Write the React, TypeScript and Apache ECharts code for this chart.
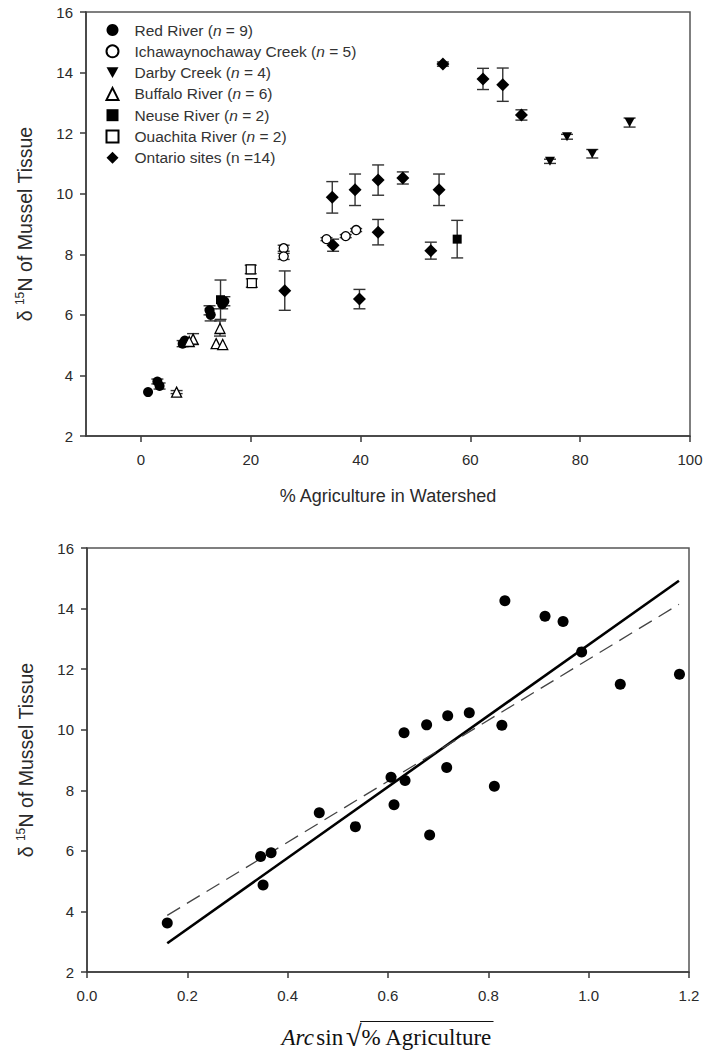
import React, { useEffect, useRef } from "react";
import * as echarts from "echarts";

// ---------- data ----------
const siteNames = [
  "Red River",
  "Ichawaynochaway Creek",
  "Darby Creek",
  "Buffalo River",
  "Neuse River",
  "Ouachita River",
  "Ontario sites",
];
const siteCounts = ["9", "5", "4", "6", "2", "2", "14"];

// [% agriculture in watershed, δ15N, ± error]
const redRiver = [
  [1.3, 3.45, 0],
  [3.0, 3.8, 0.08],
  [3.4, 3.65, 0.1],
  [7.6, 5.05, 0.1],
  [8.0, 5.15, 0],
  [12.5, 6.15, 0.15],
  [12.7, 6.0, 0.2],
  [14.8, 6.35, 0.15],
  [15.2, 6.45, 0.15],
];
const ichawaynochaway = [
  [26.0, 8.2, 0.1],
  [26.0, 7.93, 0.1],
  [33.8, 8.5, 0.05],
  [37.3, 8.6, 0.05],
  [39.2, 8.8, 0.05],
];
const darbyCreek = [
  [74.5, 11.07, 0.07],
  [77.6, 11.88, 0.08],
  [82.2, 11.32, 0.14],
  [89.0, 12.35, 0.15],
];
const buffaloRiver = [
  [6.5, 3.45, 0.05],
  [9.5, 5.2, 0.18],
  [8.8, 5.12, 0],
  [14.4, 5.55, 0.25],
  [13.7, 5.05, 0],
  [14.9, 5.02, 0],
];
const neuseRiver = [
  [57.6, 8.5, 0.62],
  [14.5, 6.5, 0.65],
];
const ouachitaRiver = [
  [20.0, 7.5, 0.14],
  [20.2, 7.05, 0.14],
];
const ontarioSites = [
  [55.0, 14.28, 0.07],
  [62.3, 13.79, 0.35],
  [65.9, 13.6, 0.55],
  [69.3, 12.6, 0.17],
  [43.2, 10.45, 0.5],
  [47.7, 10.52, 0.2],
  [54.3, 10.13, 0.52],
  [43.2, 8.73, 0.42],
  [52.8, 8.12, 0.28],
  [34.85, 9.88, 0.52],
  [39.0, 10.13, 0.52],
  [35.0, 8.3, 0.2],
  [39.8, 6.52, 0.32],
  [26.2, 6.8, 0.65],
];

const topXTicks = [0, 20, 40, 60, 80, 100];

// bottom panel
const arcsinAg = [
  0.16, 0.346, 0.367, 0.351, 0.463, 0.535, 0.606, 0.612, 0.632, 0.634, 0.677,
  0.683, 0.717, 0.719, 0.762, 0.812, 0.827, 0.833, 0.913, 0.949, 0.986, 1.063,
  1.181,
];
const d15N = [
  3.62, 5.81, 5.94, 4.87, 7.26, 6.8, 8.43, 7.52, 9.9, 8.32, 10.16, 6.52, 8.75,
  10.46, 10.56, 8.13, 10.15, 14.26, 13.75, 13.57, 12.57, 11.5, 11.83,
];
const bottomXTicks = [0, 0.2, 0.4, 0.6, 0.8, 1.0, 1.2];
const fitX = [0.16, 1.18];
const fitSolidY = [2.95, 14.92];
const fitDashedY = [3.87, 14.14];

// ---------- styling ----------
const SANS = '"Liberation Sans", Arial, Helvetica, sans-serif';
const SERIF = '"Liberation Serif", "Times New Roman", serif';
const AX = "#3a3a3a";
const TXT = "#2a2a2a";
const DOWN_TRI = "path://M0,0L10,0L5,9Z";

const siteData = [
  redRiver,
  ichawaynochaway,
  darbyCreek,
  buffaloRiver,
  neuseRiver,
  ouachitaRiver,
  ontarioSites,
];
const siteSymbols: any[] = [
  { symbol: "circle", size: 10, fill: "#000" },
  { symbol: "circle", size: 9, fill: "#fff" },
  { symbol: DOWN_TRI, size: 10, fill: "#000" },
  { symbol: "triangle", size: 10, fill: "#fff" },
  { symbol: "rect", size: 9, fill: "#000" },
  { symbol: "rect", size: 9, fill: "#fff" },
  { symbol: "diamond", size: 13, fill: "#000" },
];

function measure(text: string, font: string) {
  const c = document.createElement("canvas").getContext("2d")!;
  c.font = font;
  return c.measureText(text).width;
}

export default function App() {
  const ref = useRef<HTMLDivElement>(null);

  useEffect(() => {
    if (!ref.current) return;
    const chart = echarts.init(ref.current, null, { renderer: "svg" });

    const axisCommon = {
      axisLine: { show: true, onZero: false, lineStyle: { color: AX, width: 1.5 } },
      axisTick: { show: true, length: 6, lineStyle: { color: AX, width: 1.5 } },
      splitLine: { show: false },
    };
    const labelCommon = { fontSize: 15, color: TXT, fontFamily: SANS };

    const yName = "δ {sup|15}N of Mussel Tissue";
    const yNameStyle = {
      fontSize: 19.5,
      color: TXT,
      fontFamily: SANS,
      lineHeight: 22,
      rich: {
        sup: { fontSize: 12, fontFamily: SANS, color: TXT, verticalAlign: "top", lineHeight: 22 },
      },
    };

    const errorRender = (params: any, api: any) => {
      const x = api.value(0);
      const y = api.value(1);
      const e = api.value(2);
      if (!e) return { type: "group", children: [] };
      const t = api.coord([x, y + e]);
      const b = api.coord([x, y - e]);
      const hw = 6;
      const st = { stroke: "#333", lineWidth: 1.4 };
      return {
        type: "group",
        children: [
          { type: "line", shape: { x1: t[0], y1: t[1], x2: b[0], y2: b[1] }, style: st },
          { type: "line", shape: { x1: t[0] - hw, y1: t[1], x2: t[0] + hw, y2: t[1] }, style: st },
          { type: "line", shape: { x1: b[0] - hw, y1: b[1], x2: b[0] + hw, y2: b[1] }, style: st },
        ],
      };
    };

    const series: any[] = [];
    siteData.forEach((d, i) => {
      series.push({
        type: "custom",
        name: siteNames[i] + " error",
        xAxisIndex: 0,
        yAxisIndex: 0,
        data: d,
        renderItem: errorRender,
        z: 1,
        silent: true,
      });
    });
    siteData.forEach((d, i) => {
      const s = siteSymbols[i];
      series.push({
        type: "scatter",
        name: siteNames[i],
        xAxisIndex: 0,
        yAxisIndex: 0,
        data: d.map((p) => [p[0], p[1]]),
        symbol: s.symbol,
        symbolSize: s.size,
        symbolKeepAspect: true,
        itemStyle: { color: s.fill, borderColor: "#000", borderWidth: s.fill === "#fff" ? 1.3 : 0, opacity: 1 },
        z: 3,
      });
    });

    series.push({
      type: "scatter",
      name: "bottom",
      xAxisIndex: 1,
      yAxisIndex: 1,
      data: arcsinAg.map((x, i) => [x, d15N[i]]),
      symbol: "circle",
      symbolSize: 11,
      itemStyle: { color: "#000", opacity: 1 },
      z: 3,
    });
    series.push({
      type: "line",
      name: "fit solid",
      xAxisIndex: 1,
      yAxisIndex: 1,
      data: fitX.map((x, i) => [x, fitSolidY[i]]),
      showSymbol: false,
      symbol: "none",
      lineStyle: { color: "#000", width: 2.6 },
      z: 2,
    });
    series.push({
      type: "line",
      name: "fit dashed",
      xAxisIndex: 1,
      yAxisIndex: 1,
      data: fitX.map((x, i) => [x, fitDashedY[i]]),
      showSymbol: false,
      symbol: "none",
      lineStyle: { color: "#444", width: 1.3, type: [15, 8] },
      z: 2,
    });

    // bottom x title: Arc sin √(% Agriculture)
    const fs = 23;
    const fItal = `italic ${fs}px ${SERIF}`;
    const fReg = `${fs}px ${SERIF}`;
    const fRad = `29px ${SERIF}`;
    const gap = 2.5;
    const wArc = measure("Arc", fItal);
    const wSin = measure("sin", fReg);
    const wRad = measure("√", fRad);
    const wAg = measure("% Agriculture", fReg);
    const total = wArc + gap + wSin + gap + wRad + wAg;
    const cx = 387;
    const x0 = cx - total / 2;
    const xSin = x0 + wArc + gap;
    const xRad = xSin + wSin + gap;
    const xAg = xRad + wRad;
    const textTop = 1026;

    chart.setOption({
      animation: false,
      backgroundColor: "#fff",
      grid: [
        { left: 86, top: 12, width: 604, height: 424, show: true, borderColor: "#555", borderWidth: 1.5, backgroundColor: "transparent" },
        { left: 87, top: 548, width: 602, height: 424, show: true, borderColor: "#555", borderWidth: 1.5, backgroundColor: "transparent" },
      ],
      legend: {
        data: siteNames.map((n, i) => ({
          name: n,
          icon: siteSymbols[i].symbol,
        })),
        orient: "vertical",
        left: 100.5,
        top: 16.5,
        itemWidth: 12,
        itemHeight: 12,
        itemGap: 4.3,
        selectedMode: false,
        formatter: (name: string) => {
          const i = siteNames.indexOf(name);
          if (name === "Ontario sites") return `${name} (n =${siteCounts[i]})`;
          return `${name} ({it|n} = ${siteCounts[i]})`;
        },
        textStyle: {
          fontFamily: SANS,
          fontSize: 15.5,
          color: "#333",
          lineHeight: 17,
          padding: [0, 0, 0, 11],
          rich: { it: { fontStyle: "italic", fontFamily: SANS, fontSize: 15.5, color: "#333", lineHeight: 17 } },
        },
      },
      xAxis: [
        {
          type: "value",
          gridIndex: 0,
          min: -10,
          max: 100,
          ...axisCommon,
          axisTick: { ...axisCommon.axisTick, customValues: topXTicks },
          axisLabel: { ...labelCommon, margin: 16, customValues: topXTicks },
          name: "% Agriculture in Watershed",
          nameLocation: "middle",
          nameGap: 51,
          nameTextStyle: { fontSize: 18, color: TXT, fontFamily: SANS },
        },
        {
          type: "value",
          gridIndex: 1,
          min: 0,
          max: 1.2,
          ...axisCommon,
          axisTick: { ...axisCommon.axisTick, customValues: bottomXTicks },
          axisLabel: { ...labelCommon, margin: 16, customValues: bottomXTicks, formatter: (v: number) => v.toFixed(1) },
        },
      ],
      yAxis: [
        {
          type: "value",
          gridIndex: 0,
          min: 2,
          max: 16,
          interval: 2,
          ...axisCommon,
          axisLabel: { ...labelCommon, margin: 13 },
          name: yName,
          nameLocation: "middle",
          nameRotate: 90,
          nameGap: 50,
          nameTextStyle: yNameStyle,
        },
        {
          type: "value",
          gridIndex: 1,
          min: 2,
          max: 16,
          interval: 2,
          ...axisCommon,
          axisLabel: { ...labelCommon, margin: 13 },
          name: yName,
          nameLocation: "middle",
          nameRotate: 90,
          nameGap: 50,
          nameTextStyle: yNameStyle,
        },
      ],
      graphic: [
        { type: "text", left: x0, top: textTop, style: { text: "Arc", font: fItal, fill: "#111" } },
        { type: "text", left: xSin, top: textTop, style: { text: "sin", font: fReg, fill: "#111" } },
        { type: "text", left: xRad, top: textTop - 4.5, style: { text: "√", font: fRad, fill: "#111" } },
        { type: "text", left: xAg, top: textTop, style: { text: "% Agriculture", font: fReg, fill: "#111" } },
        { type: "line", shape: { x1: xAg - 1.5, y1: 1021.5, x2: xAg + wAg + 1, y2: 1021.5 }, style: { stroke: "#111", lineWidth: 1.2 } },
      ],
      series,
    });

    return () => chart.dispose();
  }, []);

  return (
    <div
      ref={ref}
      style={{ position: "absolute", left: 0, top: 0, width: 709, height: 1053, background: "#fff" }}
    />
  );
}
